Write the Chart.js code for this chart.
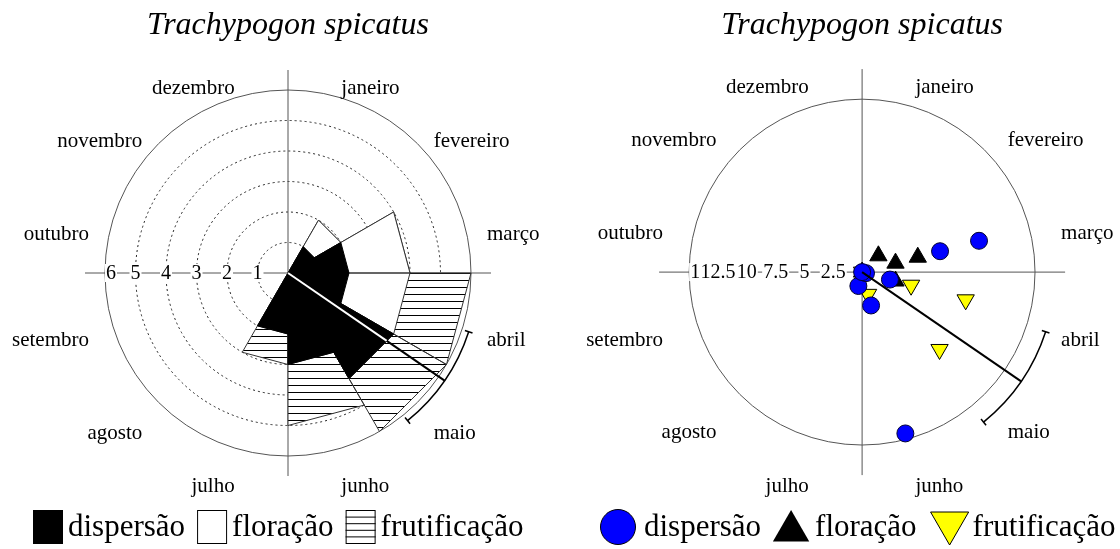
<!DOCTYPE html>
<html lang="pt">
<head>
<meta charset="utf-8">
<title>Trachypogon spicatus</title>
<script src="https://cdn.jsdelivr.net/npm/chart.js@4.4.1/dist/chart.umd.min.js"></script>
<style>
  html, body { margin: 0; padding: 0; background: #fff; }
  #wrap { position: relative; width: 1120px; height: 549px; overflow: hidden; }
  .panel { position: absolute; top: 0; width: 560px; height: 549px; }
</style>
</head>
<body>
<div id="wrap">
  <div class="panel" style="left:0"><canvas id="chart-rosa" width="560" height="549"></canvas></div>
  <div class="panel" style="left:560px"><canvas id="chart-pontos" width="560" height="549"></canvas></div>
</div>
<script>
const FONT = "'Liberation Serif', 'Times New Roman', serif";
const titulo = "Trachypogon spicatus";
const meses = ["janeiro", "fevereiro", "março", "abril", "maio", "junho",
  "julho", "agosto", "setembro", "outubro", "novembro", "dezembro"];

// left panel: records per month, stacked
const dispersao = [0, 1, 2, 2, 4, 3, 2, 0, 0, 0, 0, 0];
const floracao = [0, 1, 2, 2, 0, 0, 0, 0, 0, 0, 0, 0];
const frutificacao = [0, 0, 0, 2, 2, 2, 1, 0, 0, 0, 0, 0];
const ticksRosa = [6, 5, 4, 3, 2, 1];

// right panel: one point per record (month index, value)
const dispMes = [2, 2, 3, 5, 5, 6, 3, 0];
const dispVal = [10.5, 7, 2.5, 3, 14.5, 1.25, 0.35, 0];
const florMes = [1, 2, 2, 3, 0];
const florVal = [2, 3, 5, 3, 0];
const frutMes = [3, 3, 4, 5, 0];
const frutVal = [4.4, 9.3, 9.5, 2, 0];
const ticksPontos = [15, 12.5, 10, 7.5, 5, 2.5];

// mean angle and its spread (degrees, clockwise from janeiro)
const anguloMedio = 124.5;
const desvioAngular = 16.5;

const rosaGeo = { cx: 288, cy: 273, px: 30.5, raio: 6, arco: 190 };
const pontosGeo = { cx: 303, cy: 272, px: 12, raio: 15, arco: 193 };
const W = 560, H = 549;

function polar(graus, r) {
  const a = graus * Math.PI / 180;
  return { x: r * Math.sin(a), y: r * Math.cos(a) };
}

// one wedge per month, from the centre out to the stacked total
function fatias(valores) {
  const pts = [{ x: 0, y: 0 }];
  valores.forEach((v, i) => {
    if (v <= 0) return;
    pts.push(polar(i * 30, v), polar(i * 30 + 30, v), { x: 0, y: 0 });
  });
  return pts;
}

function acumula(...series) {
  return series[0].map((_, i) => series.reduce((s, arr) => s + arr[i], 0));
}

function pontos(mesesIdx, valores) {
  return mesesIdx.map((m, i) => polar(m * 30 + 15, valores[i]));
}

function eixos(geo) {
  return {
    x: { type: "linear", display: false, min: -geo.cx / geo.px, max: (W - geo.cx) / geo.px },
    y: { type: "linear", display: false, min: -(H - geo.cy) / geo.px, max: geo.cy / geo.px },
  };
}

function hachura() {
  const c = document.createElement("canvas");
  c.width = 8; c.height = 7;
  const g = c.getContext("2d");
  g.fillStyle = "#fff"; g.fillRect(0, 0, 8, 7);
  g.fillStyle = "#000"; g.fillRect(0, 0, 8, 1);
  return g.createPattern(c, "repeat");
}
const padraoHachura = hachura();

function centro(chart) {
  const sx = chart.scales.x, sy = chart.scales.y;
  const x0 = sx.getPixelForValue(0), y0 = sy.getPixelForValue(0);
  return { x0, y0, u: sx.getPixelForValue(1) - x0 };
}

function decoracao(geo, opts) {
  return {
    id: "decoracao",
    beforeDatasetsDraw(chart) {
      const ctx = chart.ctx;
      const { x0, y0, u } = centro(chart);
      const R = geo.raio * u;
      ctx.save();
      if (opts.aneis) {
        ctx.strokeStyle = "#222"; ctx.lineWidth = 1; ctx.setLineDash([2, 3]);
        for (let r = 1; r < geo.raio; r++) {
          ctx.beginPath(); ctx.arc(x0, y0, r * u, 0, Math.PI * 2); ctx.stroke();
        }
        ctx.setLineDash([]);
      }
      ctx.strokeStyle = "#555"; ctx.lineWidth = 1;
      ctx.beginPath(); ctx.arc(x0, y0, R, 0, Math.PI * 2); ctx.stroke();
      const ext = 203;
      ctx.beginPath();
      ctx.moveTo(x0 - ext, y0); ctx.lineTo(x0 + ext, y0);
      ctx.moveTo(x0, y0 - ext); ctx.lineTo(x0, y0 + ext);
      ctx.stroke();
      // radial tick labels along the left axis, kept inside the circle
      ctx.font = `20px ${FONT}`; ctx.textAlign = "center"; ctx.textBaseline = "middle";
      opts.ticks.forEach((t) => {
        const tw = ctx.measureText(String(t)).width;
        const x = Math.max(x0 - t * u, x0 - R + tw / 2 + 1);
        ctx.fillStyle = "#fff"; ctx.fillRect(x - tw / 2 - 1, y0 - 9, tw + 2, 18);
        ctx.fillStyle = "#000"; ctx.fillText(String(t), x, y0 + 1);
      });
      ctx.restore();
    },
    afterDatasetsDraw(chart) {
      const ctx = chart.ctx;
      const { x0, y0, u } = centro(chart);
      ctx.save();
      // mean vector
      const a = anguloMedio * Math.PI / 180;
      const dx = Math.sin(a), dy = -Math.cos(a);
      let rBranco = 0;
      if (opts.vetorBranco) {
        const m = Math.floor(anguloMedio / 30);
        rBranco = dispersao[m] * u * Math.cos(Math.PI / 12) / Math.cos(a - (m * 30 + 15) * Math.PI / 180);
        ctx.strokeStyle = "#fff"; ctx.lineWidth = 2;
        ctx.beginPath(); ctx.moveTo(x0, y0); ctx.lineTo(x0 + dx * rBranco, y0 + dy * rBranco); ctx.stroke();
      }
      ctx.strokeStyle = "#000"; ctx.lineWidth = 2;
      ctx.beginPath();
      ctx.moveTo(x0 + dx * rBranco, y0 + dy * rBranco);
      ctx.lineTo(x0 + dx * geo.arco, y0 + dy * geo.arco);
      ctx.stroke();
      // spread arc with end caps
      const a1 = (anguloMedio - desvioAngular - 90) * Math.PI / 180;
      const a2 = (anguloMedio + desvioAngular - 90) * Math.PI / 180;
      ctx.lineWidth = 1.5;
      ctx.beginPath(); ctx.arc(x0, y0, geo.arco, a1, a2); ctx.stroke();
      [a1, a2].forEach((t) => {
        ctx.beginPath();
        ctx.moveTo(x0 + Math.cos(t) * (geo.arco - 4), y0 + Math.sin(t) * (geo.arco - 4));
        ctx.lineTo(x0 + Math.cos(t) * (geo.arco + 4), y0 + Math.sin(t) * (geo.arco + 4));
        ctx.stroke();
      });
      // month labels
      ctx.fillStyle = "#000"; ctx.font = `21px ${FONT}`; ctx.textBaseline = "middle";
      meses.forEach((nome, i) => {
        const t = (i * 30 + 15) * Math.PI / 180;
        ctx.textAlign = Math.sin(t) > 0 ? "left" : "right";
        ctx.fillText(nome, x0 + 206 * Math.sin(t), y0 + 14.5 - 206.5 * Math.cos(t));
      });
      // title
      ctx.font = `italic 32px ${FONT}`; ctx.textAlign = "center";
      ctx.fillText(titulo, x0, 26);
      opts.legenda(ctx);
      ctx.restore();
    },
  };
}

function legendaRosa(ctx) {
  const y = 527;
  ctx.font = `31px ${FONT}`; ctx.textAlign = "left"; ctx.textBaseline = "middle";
  let x = 33;
  const itens = [
    { nome: "dispersão", fill: "#000" },
    { nome: "floração", fill: "#fff" },
    { nome: "frutificação", fill: "#fff", linhas: true },
  ];
  itens.forEach((it) => {
    ctx.fillStyle = it.fill; ctx.fillRect(x, y - 17, 30, 34);
    ctx.strokeStyle = "#000"; ctx.lineWidth = 1;
    if (it.linhas) {
      ctx.beginPath();
      for (let k = 1; k < 5; k++) { ctx.moveTo(x, y - 16.5 + k * 6.6); ctx.lineTo(x + 30, y - 16.5 + k * 6.6); }
      ctx.stroke();
    }
    ctx.strokeRect(x + 0.5, y - 16.5, 29, 33);
    x += 35;
    ctx.fillStyle = "#000"; ctx.fillText(it.nome, x, y + 1);
    x += ctx.measureText(it.nome).width + 12;
  });
}

function legendaPontos(ctx) {
  const y = 527;
  ctx.font = `31px ${FONT}`; ctx.textAlign = "left"; ctx.textBaseline = "middle";
  let x = 40;
  const tri = (cx, cy, r, inv) => {
    const s = inv ? -1 : 1;
    ctx.beginPath();
    ctx.moveTo(cx, cy - s * r);
    ctx.lineTo(cx + r * 0.866, cy + s * r / 2);
    ctx.lineTo(cx - r * 0.866, cy + s * r / 2);
    ctx.closePath();
  };
  ctx.lineWidth = 1; ctx.strokeStyle = "#000";
  ctx.fillStyle = "#0000ff"; ctx.beginPath(); ctx.arc(x + 18, y, 17.5, 0, Math.PI * 2); ctx.fill(); ctx.stroke();
  x += 44; ctx.fillStyle = "#000"; ctx.fillText("dispersão", x, y + 1);
  x += ctx.measureText("dispersão").width + 12;
  tri(x + 18, y + 4, 21, false); ctx.fillStyle = "#000"; ctx.fill();
  x += 42; ctx.fillText("floração", x, y + 1);
  x += ctx.measureText("floração").width + 14;
  tri(x + 19, y - 4, 22, true); ctx.fillStyle = "#ffff00"; ctx.fill(); ctx.stroke();
  x += 42; ctx.fillStyle = "#000"; ctx.fillText("frutificação", x, y + 1);
}

const base = {
  responsive: false,
  animation: false,
  events: [],
  layout: { padding: 0 },
  plugins: { legend: { display: false }, title: { display: false }, tooltip: { enabled: false } },
};

const totalDisp = acumula(dispersao);
const totalFlor = acumula(dispersao, floracao);
const totalFrut = acumula(dispersao, floracao, frutificacao);

const rosa = new Chart(document.getElementById("chart-rosa"), {
  type: "scatter",
  data: {
    datasets: [
      { label: "dispersão", data: fatias(totalDisp), showLine: true, fill: "shape",
        backgroundColor: "#000", borderColor: "#000", borderWidth: 1, pointRadius: 0, tension: 0 },
      { label: "floração", data: fatias(totalFlor), showLine: true, fill: "shape",
        backgroundColor: "#fff", borderColor: "#333", borderWidth: 1, pointRadius: 0, tension: 0 },
      { label: "frutificação", data: fatias(totalFrut), showLine: true, fill: "shape",
        backgroundColor: padraoHachura, borderColor: "#333", borderWidth: 1, pointRadius: 0, tension: 0 },
    ],
  },
  options: { ...base, scales: eixos(rosaGeo) },
  plugins: [decoracao(rosaGeo, { aneis: true, ticks: ticksRosa, vetorBranco: true, legenda: legendaRosa })],
});

const pts = new Chart(document.getElementById("chart-pontos"), {
  type: "scatter",
  data: {
    datasets: [
      { label: "dispersão", data: pontos(dispMes, dispVal), pointStyle: "circle", pointRadius: 8.5,
        backgroundColor: "#0000ff", borderColor: "#000033", borderWidth: 1 },
      { label: "floração", data: pontos(florMes, florVal), pointStyle: "triangle", pointRadius: 10,
        backgroundColor: "#000", borderColor: "#000", borderWidth: 1 },
      { label: "frutificação", data: pontos(frutMes, frutVal), pointStyle: "triangle", rotation: 180,
        pointRadius: 10, backgroundColor: "#ffff00", borderColor: "#000", borderWidth: 1 },
    ],
  },
  options: { ...base, scales: eixos(pontosGeo) },
  plugins: [decoracao(pontosGeo, { aneis: false, ticks: ticksPontos, vetorBranco: false, legenda: legendaPontos })],
});
</script>
</body>
</html>
